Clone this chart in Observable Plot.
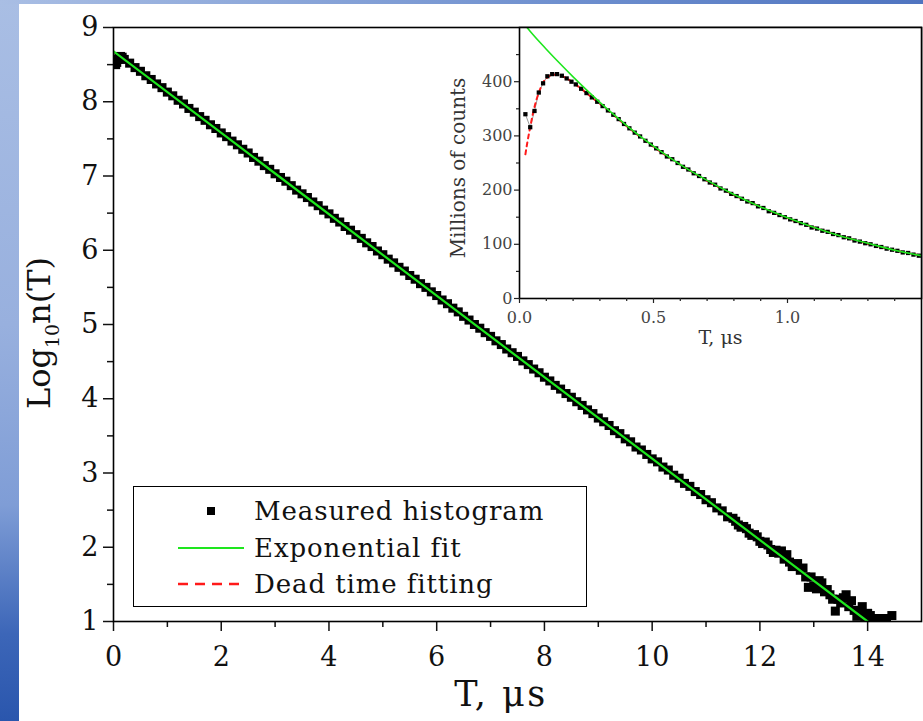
<!DOCTYPE html>
<html>
<head>
<meta charset="utf-8">
<script src="https://cdn.jsdelivr.net/npm/d3@7"></script>
<script src="https://cdn.jsdelivr.net/npm/@observablehq/plot@0.6"></script>
<style>
html, body { margin: 0; padding: 0; width: 923px; height: 721px; overflow: hidden; }
body { position: relative; background: linear-gradient(to bottom, #a9bee4 0%, #98b0de 45%, #7f9dd6 70%, #3c66b8 88%, #2a56ad 100%); font-family: "DejaVu Serif", serif; }
#topbar { position: absolute; left: 0; top: 0; width: 923px; height: 4px; background: linear-gradient(to right, #a9bee4, #6f90cf 60%, #4f74c0); }
#panel { position: absolute; left: 19px; top: 4px; width: 904px; height: 717px; background: #fff; }
#main, #inset { position: absolute; }
#main { left: 0; top: 0; }
#inset { left: 440px; top: 27px; }
#legend { position: absolute; left: 133px; top: 486px; width: 454px; height: 121px; border: 1.5px solid #000; background: #fff; box-sizing: border-box; }
.row { position: absolute; left: 0; height: 36px; width: 100%; }
.row svg { position: absolute; left: 42px; top: 0; }
.row span { position: absolute; left: 120px; top: 1px; font-size: 26px; letter-spacing: 0.9px; line-height: 32px; color: #111; white-space: nowrap; }
</style>
</head>
<body>
<div id="topbar"></div>
<div id="panel"></div>
<div id="main"></div>
<div id="inset"></div>
<div id="legend"></div>
<script>
// ---------- Main chart data ----------
const mainT = [
  0.02, 0.04, 0.06, 0.08, 0.10, 0.13, 0.16, 0.20,
  0.3, 0.4, 0.5, 0.6, 0.7, 0.8, 0.9, 1.0, 1.1, 1.2, 1.3, 1.4, 1.5, 1.6, 1.7, 1.8, 1.9,
  2.0, 2.1, 2.2, 2.3, 2.4, 2.5, 2.6, 2.7, 2.8, 2.9, 3.0, 3.1, 3.2, 3.3, 3.4, 3.5, 3.6, 3.7, 3.8, 3.9,
  4.0, 4.1, 4.2, 4.3, 4.4, 4.5, 4.6, 4.7, 4.8, 4.9, 5.0, 5.1, 5.2, 5.3, 5.4, 5.5, 5.6, 5.7, 5.8, 5.9,
  6.0, 6.1, 6.2, 6.3, 6.4, 6.5, 6.6, 6.7, 6.8, 6.9, 7.0, 7.1, 7.2, 7.3, 7.4, 7.5, 7.6, 7.7, 7.8, 7.9,
  8.0, 8.1, 8.2, 8.3, 8.4, 8.5, 8.6, 8.7, 8.8, 8.9, 9.0, 9.1, 9.2, 9.3, 9.4, 9.5, 9.6, 9.7, 9.8, 9.9,
  10.0, 10.1, 10.2, 10.3, 10.4, 10.5, 10.6, 10.7, 10.8, 10.9, 11.0, 11.1, 11.2, 11.3, 11.4, 11.5,
  11.55, 11.6, 11.65, 11.7, 11.75, 11.8, 11.85, 11.9, 11.95, 12.0, 12.05, 12.1, 12.15, 12.2, 12.25,
  12.3, 12.35, 12.4, 12.45, 12.5, 12.55, 12.6, 12.65, 12.7, 12.75, 12.8, 12.85, 12.9, 12.95, 13.0,
  13.05, 13.1, 13.15, 13.2, 13.25, 13.3, 13.35, 13.4, 13.45, 13.5, 13.55, 13.6, 13.65, 13.7, 13.75,
  13.8, 13.85, 13.9, 13.95, 14.0, 14.05, 14.1, 14.15, 14.2, 14.3, 14.35, 14.45
];
const mainLog = [
  8.53, 8.50, 8.53, 8.57, 8.60, 8.61, 8.60, 8.57,
  8.52, 8.46, 8.41, 8.35, 8.30, 8.24, 8.19, 8.13, 8.08, 8.02, 7.97, 7.91, 7.86, 7.80, 7.75, 7.69, 7.64,
  7.58, 7.53, 7.47, 7.42, 7.36, 7.31, 7.25, 7.20, 7.14, 7.09, 7.03, 6.98, 6.93, 6.87, 6.81, 6.76, 6.71, 6.65, 6.60, 6.54,
  6.49, 6.43, 6.38, 6.32, 6.27, 6.21, 6.16, 6.10, 6.05, 5.99, 5.94, 5.88, 5.83, 5.77, 5.72, 5.66, 5.61, 5.55, 5.50, 5.44,
  5.39, 5.33, 5.28, 5.22, 5.17, 5.11, 5.06, 5.00, 4.95, 4.89, 4.84, 4.78, 4.73, 4.67, 4.62, 4.57, 4.51, 4.46, 4.40, 4.35,
  4.29, 4.24, 4.18, 4.13, 4.07, 4.02, 3.96, 3.91, 3.85, 3.80, 3.74, 3.69, 3.64, 3.57, 3.53, 3.46, 3.42, 3.35, 3.31, 3.25,
  3.19, 3.15, 3.08, 3.04, 2.97, 2.93, 2.86, 2.82, 2.75, 2.71, 2.64, 2.60, 2.53, 2.49, 2.41, 2.39,
  2.35, 2.30, 2.27, 2.28, 2.25, 2.19, 2.16, 2.17, 2.14, 2.08, 2.05, 2.07, 2.03, 1.97, 1.93,
  1.96, 1.92, 1.95, 1.84, 1.90, 1.80, 1.74, 1.77, 1.78, 1.69, 1.72, 1.60, 1.46, 1.60, 1.48,
  1.44, 1.55, 1.52, 1.40, 1.43, 1.36, 1.30, 1.14, 1.30, 1.25, 1.32, 1.36, 1.20, 1.28, 1.15,
  1.07, 1.13, 1.20, 1.05, 1.11, 1.08, 1.04, 1.02, 1.04, 1.00, 1.04, 1.08
];
// Exponential fit line (read at its two ends)
const fitT = [0, 14];
const fitLog = [8.68, 1.0];

// axis ticks
const xMajor = [0, 2, 4, 6, 8, 10, 12, 14];
const xMinor = [1, 3, 5, 7, 9, 11, 13];
const yMajor = [1, 2, 3, 4, 5, 6, 7, 8, 9];
const yMinor = [1.5, 2.5, 3.5, 4.5, 5.5, 6.5, 7.5, 8.5];

// ---------- Inset data (millions of counts) ----------
const insetT = [
  0.022, 0.040, 0.056, 0.072, 0.088, 0.104, 0.122, 0.140, 0.158, 0.176, 0.194,
  0.21, 0.23, 0.25, 0.27, 0.29, 0.31, 0.33, 0.35, 0.37, 0.39, 0.41, 0.43, 0.45, 0.47, 0.49,
  0.51, 0.53, 0.55, 0.57, 0.59, 0.61, 0.63, 0.65, 0.67, 0.69, 0.71, 0.73, 0.75, 0.77, 0.79,
  0.81, 0.83, 0.85, 0.87, 0.89, 0.91, 0.93, 0.95, 0.97, 0.99, 1.01, 1.03, 1.05, 1.07, 1.09,
  1.11, 1.13, 1.15, 1.17, 1.19, 1.21, 1.23, 1.25, 1.27, 1.29, 1.31, 1.33, 1.35, 1.37, 1.39,
  1.41, 1.43, 1.45, 1.47, 1.49
];
const insetCounts = [
  340, 316, 346, 380, 397, 410, 414, 414, 411, 406, 400,
  395, 387, 379, 371, 363, 355, 347, 339, 331, 322, 314, 306, 299, 291, 284,
  277, 270, 262, 257, 250, 243, 238, 231, 226, 220, 214, 210, 203, 199, 193,
  189, 184, 179, 176, 170, 167, 161, 158, 154, 150, 146, 143, 139, 136, 131,
  129, 125, 123, 119, 117, 113, 111, 107, 105, 102, 100, 97, 95, 92, 90,
  88, 85, 84, 81, 79
];
// Dead time fitting curve (red dashed)
const deadT = [0.022, 0.03, 0.04, 0.05, 0.06, 0.07, 0.08, 0.09, 0.10, 0.12, 0.14, 0.16, 0.18, 0.20, 0.22, 0.25, 0.30, 0.35, 0.40, 0.50, 0.60, 0.70, 0.80, 0.90, 1.00, 1.10, 1.20, 1.30, 1.40, 1.50];
const deadCounts = [266, 290, 316, 341, 361, 377, 390, 400, 406, 412, 413, 410, 405, 398, 391, 379, 359, 339, 318, 280, 247, 217, 191, 169, 148, 131, 115, 101, 89, 78.8];
// Exponential fit curve (green)
const expT = [0.028, 0.05, 0.10, 0.15, 0.20, 0.25, 0.30, 0.35, 0.40, 0.50, 0.60, 0.70, 0.80, 0.90, 1.00, 1.10, 1.20, 1.30, 1.40, 1.50];
const expCounts = [500, 487, 460, 434, 409, 385, 362, 340, 319, 281, 247, 218, 192, 169, 149, 131, 115, 102, 89, 79];

const insetXMajor = [0, 0.5, 1.0];
const insetXMinor = [0.1, 0.2, 0.3, 0.4, 0.6, 0.7, 0.8, 0.9, 1.1, 1.2, 1.3, 1.4];
const insetYMajor = [0, 100, 200, 300, 400];
const insetYMinor = [50, 150, 250, 350, 450];

// ---------- build tables ----------
const mainData = mainT.map((t, i) => ({T: t, v: mainLog[i]}));
const fitData = fitT.map((t, i) => ({T: t, v: fitLog[i]}));
const insetData = insetT.map((t, i) => ({T: t, v: insetCounts[i]}));
const deadData = deadT.map((t, i) => ({T: t, v: deadCounts[i]}));
const expData = expT.map((t, i) => ({T: t, v: expCounts[i]}));

const serif = "'DejaVu Serif', 'Liberation Serif', serif";
const GREEN = "#1ee61e";

const mainPlot = Plot.plot({
  width: 923, height: 721,
  marginLeft: 113, marginRight: 2, marginTop: 27, marginBottom: 100,
  style: {background: "transparent", fontFamily: serif, fontSize: "26px", color: "#111", overflow: "visible"},
  x: {domain: [0, 15]},
  y: {domain: [1, 9]},
  marks: [
    Plot.axisX({ticks: xMinor, tickSize: 6, tickFormat: () => "", strokeWidth: 1.5, label: null}),
    Plot.axisX({ticks: xMajor, tickSize: 10, tickPadding: 15, strokeWidth: 1.5, label: null, fontSize: 27}),
    Plot.axisY({ticks: yMinor, tickSize: 6, tickFormat: () => "", strokeWidth: 1.5, label: null}),
    Plot.axisY({ticks: yMajor, tickSize: 10, tickPadding: 5, strokeWidth: 1.5, label: null, fontSize: 27}),
    Plot.dot(mainData, {x: "T", y: "v", symbol: "square", r: 5.1, fill: "#000", clip: true}),
    Plot.line(fitData, {x: "T", y: "v", stroke: GREEN, strokeWidth: 2.2, clip: true}),
    Plot.frame({stroke: "#000", strokeWidth: 1.6})
  ]
});
document.getElementById("main").appendChild(mainPlot);

const ms = d3.select(mainPlot);
// x title
ms.append("text")
  .attr("x", 501).attr("y", 706)
  .attr("text-anchor", "middle")
  .attr("font-family", serif)
  .attr("font-size", 35)
  .attr("letter-spacing", "2.5px")
  .attr("fill", "#111")
  .text("T, μs");
// y title with subscript
const yt = ms.append("text")
  .attr("transform", "translate(50,333) rotate(-90)")
  .attr("text-anchor", "middle")
  .attr("font-family", serif)
  .attr("font-size", 32)
  .attr("fill", "#111");
yt.append("tspan").text("Log");
yt.append("tspan").attr("font-size", 19).attr("dy", 9).text("10");
yt.append("tspan").attr("dy", -9).text("n(T)");

const insetPlot = Plot.plot({
  width: 483, height: 328,
  marginLeft: 79, marginRight: 2, marginTop: 0, marginBottom: 57,
  style: {background: "transparent", fontFamily: serif, fontSize: "16px", color: "#444", overflow: "visible"},
  x: {domain: [0, 1.5]},
  y: {domain: [0, 500]},
  marks: [
    Plot.frame({fill: "#fff"}),
    Plot.line(insetData, {x: "T", y: "v", stroke: "#999", strokeWidth: 1, clip: true}),
    Plot.line(deadData, {x: "T", y: "v", stroke: "#ff1a1a", strokeWidth: 2, strokeDasharray: "4,4", curve: "monotone-x", clip: true}),
    Plot.dot(insetData, {x: "T", y: "v", symbol: "square", r: 2.4, fill: "#000", clip: true}),
    Plot.line(expData, {x: "T", y: "v", stroke: GREEN, strokeWidth: 1.6, curve: "monotone-x", clip: true}),
    Plot.frame({stroke: "#000", strokeWidth: 1.6}),
    Plot.axisX({ticks: insetXMinor, tickSize: 3, tickFormat: () => "", strokeWidth: 1.2, stroke: "#222", label: null}),
    Plot.axisX({ticks: insetXMajor, tickSize: 5, tickPadding: 8, tickFormat: d3.format(".1f"), strokeWidth: 1.2, stroke: "#222", label: null, fontSize: 16}),
    Plot.axisY({ticks: insetYMinor, tickSize: 3, tickFormat: () => "", strokeWidth: 1.2, stroke: "#222", label: null}),
    Plot.axisY({ticks: insetYMajor, tickSize: 5, tickPadding: 2, strokeWidth: 1.2, stroke: "#222", label: null, fontSize: 16}),
    Plot.text(["T, μs"], {text: d => d, frameAnchor: "bottom", dy: 45, fontSize: 19, fill: "#333"}),
    Plot.text(["Millions of counts"], {text: d => d, frameAnchor: "left", textAnchor: "middle", dx: -61, dy: 5, rotate: -90, fontSize: 20, fill: "#333"})
  ]
});
document.getElementById("inset").appendChild(insetPlot);

// ---------- legend ----------
const legendItems = [
  {label: "Measured histogram", kind: "square"},
  {label: "Exponential fit", kind: "green"},
  {label: "Dead time fitting", kind: "red"}
];
const leg = d3.select("#legend");
legendItems.forEach((it, i) => {
  const row = leg.append("div").attr("class", "row").style("top", (7 + i * 36.5) + "px");
  const s = row.append("svg").attr("width", 70).attr("height", 34);
  if (it.kind === "square") {
    s.append("rect").attr("x", 31).attr("y", 13).attr("width", 8).attr("height", 8).attr("fill", "#000");
  } else if (it.kind === "green") {
    s.append("line").attr("x1", 2).attr("x2", 68).attr("y1", 17).attr("y2", 17).attr("stroke", GREEN).attr("stroke-width", 2);
  } else {
    s.append("line").attr("x1", 2).attr("x2", 68).attr("y1", 17).attr("y2", 17).attr("stroke", "#ff1a1a").attr("stroke-width", 2.5).attr("stroke-dasharray", "10,7");
  }
  row.append("span").text(it.label);
});
</script>
</body>
</html>
